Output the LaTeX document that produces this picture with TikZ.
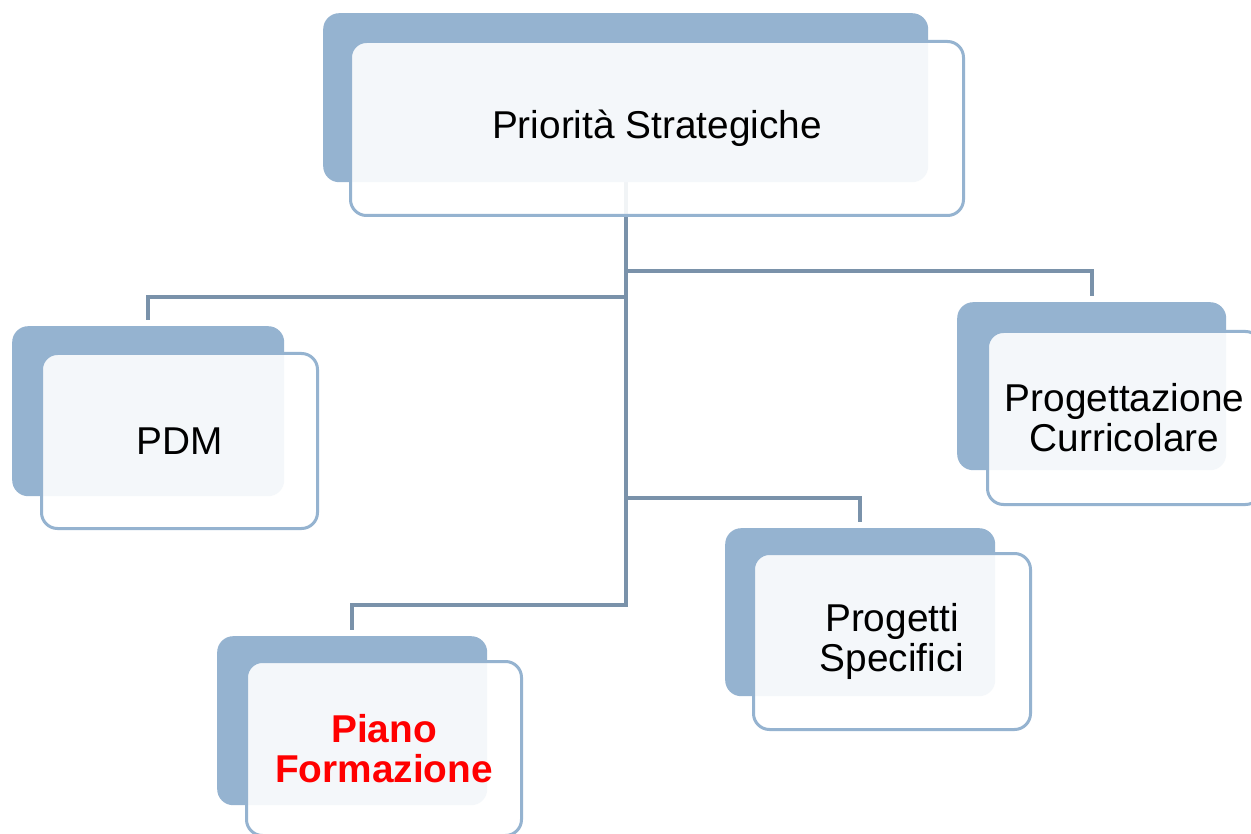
\documentclass[tikz,border=0pt]{standalone}
\usepackage{fontspec}
\setmainfont{Liberation Sans}
\definecolor{boxblue}{HTML}{95B3D0}
\definecolor{linegray}{HTML}{7A92AA}
\definecolor{redtxt}{HTML}{FF0000}
\pgfdeclarelayer{bottom}
\pgfdeclarelayer{conns}
\pgfsetlayers{bottom,conns,main}
\begin{document}
\begin{tikzpicture}[x=1pt,y=-1pt,
  backbox/.style={fill=boxblue, draw=none, rounded corners=16pt, inner sep=0pt, anchor=north west},
  frontbox/.style={fill=white, fill opacity=0.9, text opacity=1, draw=boxblue, draw opacity=1,
    line width=3pt, rounded corners=16pt, inner sep=0pt, anchor=north west, align=center,
    font=\fontsize{38.8}{40}\selectfont},
  conn/.style={draw=linegray, line width=4.4pt}]
\useasboundingbox (0,0) rectangle (1251,834);
\clip (0,0) rectangle (1251,834);
\begin{pgfonlayer}{bottom}
\fill[white] (0,0) rectangle (1251,834);
\end{pgfonlayer}
% top
\node[backbox, minimum width=605pt, minimum height=169pt] (tb) at (323,13) {};
\node[frontbox, minimum width=613pt, minimum height=174pt] (tf) at (349,40) {Priorità Strategiche};
% PDM
\node[backbox, minimum width=272pt, minimum height=170pt] (pdmb) at (12,326) {};
\node[frontbox, minimum width=276pt, minimum height=175pt] (pdmf) at (40,352) {PDM};
% Piano Formazione
\node[backbox, minimum width=270pt, minimum height=169pt] (pfb) at (217,636) {};
\node[frontbox, minimum width=275pt, minimum height=174pt] (pff) at (245,660) {\textcolor{redtxt}{\bfseries Piano}\\\textcolor{redtxt}{\bfseries Formazione}};
% Progetti Specifici
\node[backbox, minimum width=270pt, minimum height=168pt] (psb) at (725,528) {};
\node[frontbox, minimum width=277pt, minimum height=176pt] (psf) at (752,552) {Progetti\\Specifici};
% Progettazione Curricolare
\node[backbox, minimum width=269pt, minimum height=168pt] (pcb) at (957,302) {};
\node[frontbox, minimum width=274pt, minimum height=173pt] (pcf) at (986,330) {Progettazione\\Curricolare};
% connectors
\begin{pgfonlayer}{conns}
\draw[conn, shorten >=6pt] (tb.south) -- (tb.south |- 0,605) -| (pfb.north);
\draw[conn, shorten >=6pt] (tb.south |- 0,297) -| (pdmb.north);
\draw[conn, shorten >=6pt] (tb.south |- 0,271) -| (pcb.north);
\draw[conn, shorten >=6pt] (tb.south |- 0,498) -| (psb.north);
\end{pgfonlayer}
\end{tikzpicture}
\end{document}
